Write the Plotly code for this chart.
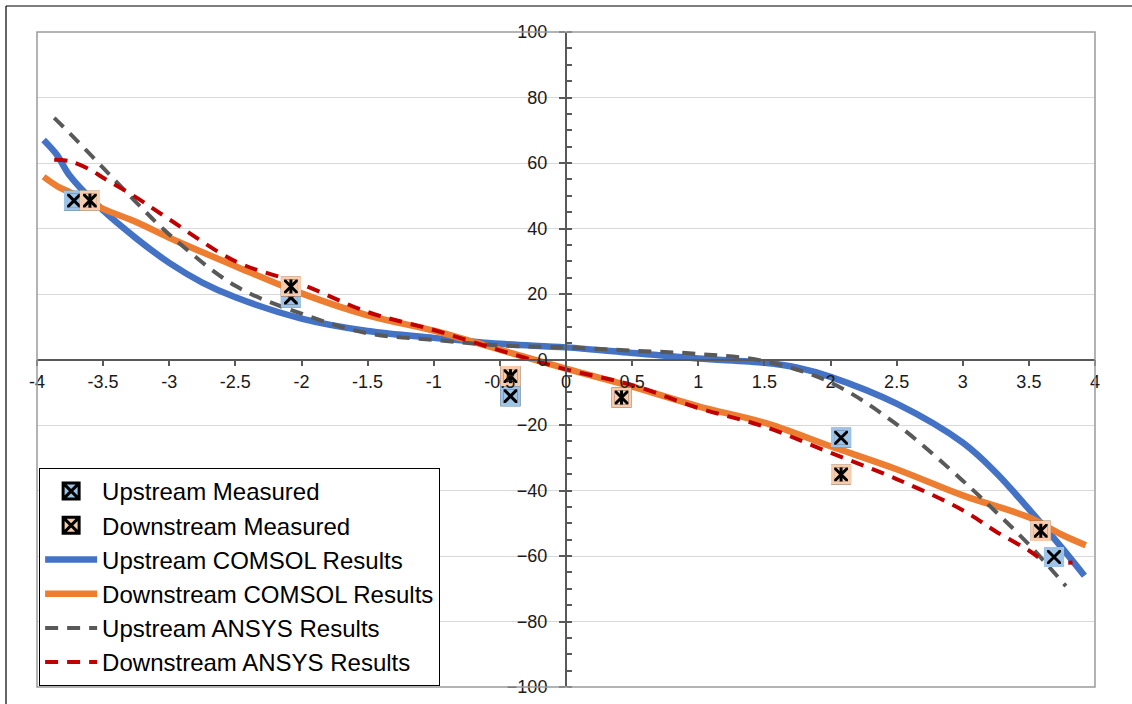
import plotly.graph_objects as go

# Measured points
up_meas_x = [-3.72, -2.08, -0.42, 2.08, 3.69]
up_meas_y = [48.5, 18.9, -11.2, -23.9, -60.3]
down_meas_x = [-3.60, -2.08, -0.42, 0.42, 2.08, 3.59]
down_meas_y = [48.5, 22.3, -5.1, -11.6, -35.1, -52.3]

# COMSOL simulation curves
up_comsol_x = [-3.95, -3.85, -3.75, -3.5, -3.25, -3.0, -2.75, -2.5, -2.0, -1.5, -1.0, -0.5,
               0.0, 0.5, 1.0, 1.5, 1.75, 2.0, 2.5, 3.0, 3.25, 3.5, 3.75, 3.92]
up_comsol_y = [67, 62.5, 56, 45.5, 37, 29.5, 23.5, 19, 12.5, 8.7, 6.6, 4.8,
               3.7, 2.0, 0.3, -1.0, -2.5, -5.3, -13.5, -25.4, -34.5, -45.7, -57.5, -66]
down_comsol_x = [-3.95, -3.85, -3.75, -3.5, -3.25, -3.0, -2.5, -2.0, -1.5, -1.0, -0.5,
                 0.0, 0.5, 1.0, 1.5, 2.0, 2.5, 3.0, 3.5, 3.75, 3.93]
down_comsol_y = [55.8, 53, 51, 46, 42, 37.2, 28.5, 20.2, 13.5, 8.8, 3.0,
                 -2.8, -8.3, -14.3, -19.3, -26.5, -33.5, -41.5, -48.2, -53.5, -56.7]

# ANSYS simulation curves
up_ansys_x = [-3.87, -3.75, -3.5, -3.25, -3.0, -2.5, -2.0, -1.5, -1.0, -0.5,
              0.0, 0.5, 1.0, 1.5, 2.0, 2.5, 3.0, 3.25, 3.5, 3.78]
up_ansys_y = [73.8, 69, 58.5, 48, 38.2, 22.5, 14, 8, 6, 4.3,
              3.7, 2.7, 1.7, -0.5, -7, -19.8, -37, -46.5, -56.5, -69.2]
down_ansys_x = [-3.87, -3.75, -3.6, -3.5, -3.25, -3.0, -2.5, -2.0, -1.5, -1.0, -0.5,
                0.0, 0.5, 1.0, 1.5, 2.0, 2.5, 3.0, 3.25, 3.5, 3.6, 3.73, 3.83]
down_ansys_y = [61, 60.5, 58, 55.5, 49.5, 42.8, 30, 23, 14.5, 9, 2.8,
                -3, -7.8, -14.8, -20.5, -28.5, -36.5, -46, -52.5, -58.3, -61, -62, -62]

x_ticks = [-4, -3.5, -3, -2.5, -2, -1.5, -1, -0.5, 0, 0.5, 1, 1.5, 2, 2.5, 3, 3.5, 4]
y_ticks = [-100, -80, -60, -40, -20, 0, 20, 40, 60, 80, 100]

FONT = "Liberation Sans, Arial, sans-serif"
BLUE, ORANGE, GRAY, RED = "#4472C4", "#ED7D31", "#595959", "#C00000"
LIGHT_BLUE, LIGHT_ORANGE = "#9DC3E6", "#F8CBAD"
AXIS = "#595959"

fig = go.Figure()

fig.add_trace(go.Scatter(x=up_comsol_x, y=up_comsol_y, mode="lines", name="Upstream COMSOL Results",
                         line=dict(color=BLUE, width=6.5, shape="spline"), legendrank=3))
fig.add_trace(go.Scatter(x=down_comsol_x, y=down_comsol_y, mode="lines", name="Downstream COMSOL Results",
                         line=dict(color=ORANGE, width=6.5, shape="spline"), legendrank=4))
fig.add_trace(go.Scatter(x=up_ansys_x, y=up_ansys_y, mode="lines", name="Upstream ANSYS Results",
                         line=dict(color=GRAY, width=4, dash="13px,9px", shape="spline"),
                         legendrank=5))
fig.add_trace(go.Scatter(x=down_ansys_x, y=down_ansys_y, mode="lines", name="Downstream ANSYS Results",
                         line=dict(color=RED, width=4, dash="13px,9px", shape="spline"),
                         legendrank=6))


def measured(xs, ys, name, fill, rank, star):
    # square with a black cross; outline of the square hidden by a fill-coloured ring
    fig.add_trace(go.Scatter(x=xs, y=ys, mode="markers", name=name, legendrank=rank,
                             marker=dict(symbol="square-x", size=17, color=fill,
                                         line=dict(color="black", width=3))))
    fig.add_trace(go.Scatter(x=xs, y=ys, mode="markers", showlegend=False, hoverinfo="skip",
                             marker=dict(symbol="square-open", size=17, color=fill,
                                         line=dict(color=fill, width=3.2))))
    if star:
        fig.add_trace(go.Scatter(x=xs, y=ys, mode="markers", showlegend=False, hoverinfo="skip",
                                 marker=dict(symbol="line-ns-open", size=10, color="black",
                                             line=dict(color="black", width=3))))


measured(up_meas_x, up_meas_y, "Upstream Measured", LIGHT_BLUE, 1, False)
measured(down_meas_x, down_meas_y, "Downstream Measured", LIGHT_ORANGE, 2, True)

fig.update_layout(
    width=1132, height=704,
    margin=dict(l=37, r=37, t=32, b=17, pad=0, autoexpand=False),
    paper_bgcolor="white", plot_bgcolor="white",
    font=dict(family=FONT, color="#1a1a1a"),
    showlegend=True,
    legend=dict(x=0.002, y=0.0015, xanchor="left", yanchor="bottom",
                bgcolor="white", bordercolor="black", borderwidth=1,
                font=dict(family=FONT, size=24, color="black"),
                itemwidth=52, tracegroupgap=0),
    xaxis=dict(range=[-4, 4], tickmode="array", tickvals=x_ticks,
               ticktext=[f"{v:g}" for v in x_ticks],
               anchor="free", position=0.5, showline=True, linecolor=AXIS, linewidth=1.5,
               ticks="outside", ticklen=6, tickwidth=1.5, tickcolor=AXIS,
               showgrid=False, zeroline=False, tickfont=dict(size=18, color="#1a1a1a")),
    yaxis=dict(range=[-100, 100], tickmode="array", tickvals=y_ticks,
               anchor="free", position=0.5, showline=True, linecolor=AXIS, linewidth=2,
               ticks="outside", ticklen=6, tickwidth=1.5, tickcolor=AXIS,
               minor=dict(ticks="inside", dtick=5, tick0=0, ticklen=5, tickwidth=1.5,
                          tickcolor=AXIS, showgrid=False),
               showgrid=True, gridcolor="#d9d9d9", gridwidth=1, zeroline=False,
               ticklabelstandoff=8, tickfont=dict(size=18, color="#1a1a1a")),
    shapes=[
        dict(type="rect", xref="paper", yref="paper", x0=0, x1=1, y0=0, y1=1,
             line=dict(color="#9a9a9a", width=1.5), layer="above"),
        dict(type="line", xref="paper", yref="paper", x0=-0.0293, x1=-0.0293, y0=-0.05, y1=1.0397,
             line=dict(color="black", width=1.2)),
        dict(type="line", xref="paper", yref="paper", x0=-0.0293, x1=1.05, y0=1.0397, y1=1.0397,
             line=dict(color="black", width=1.2)),
    ],
)

fig.write_html("out.html")
